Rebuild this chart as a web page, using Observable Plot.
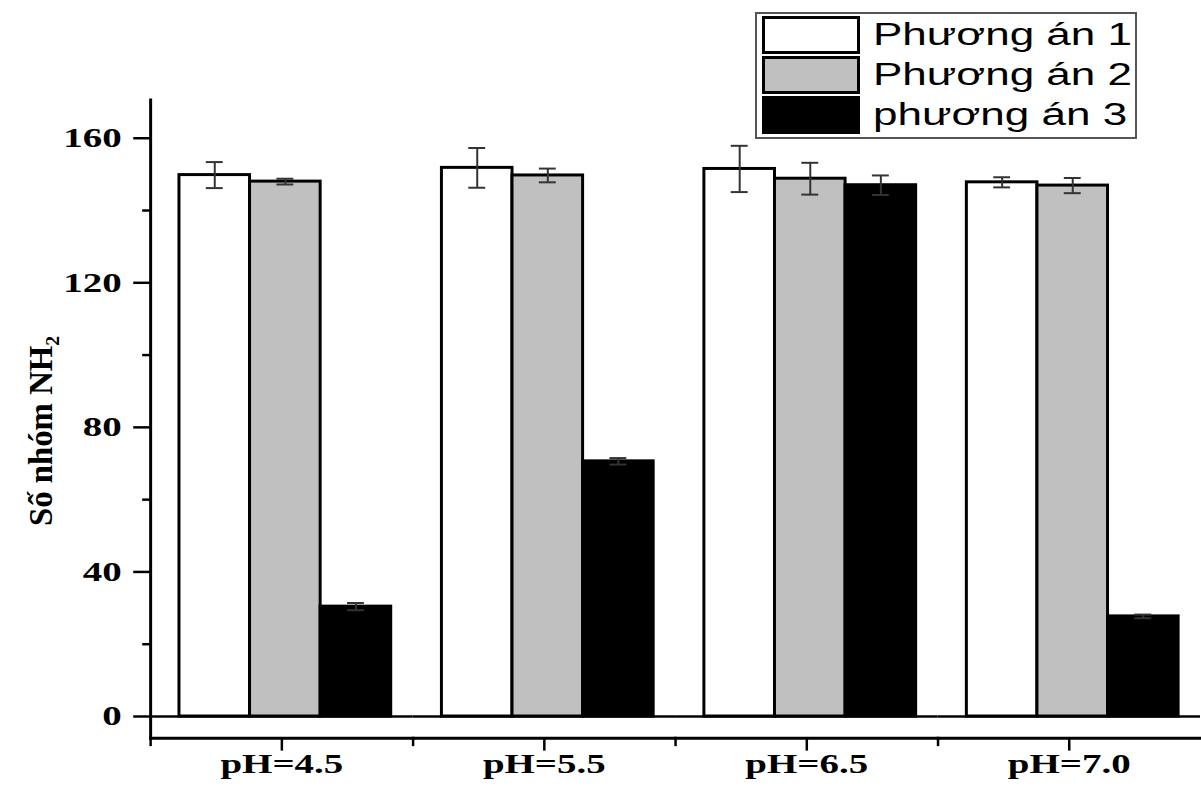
<!DOCTYPE html>
<html>
<head>
<meta charset="utf-8">
<script src="https://cdn.jsdelivr.net/npm/d3@7"></script>
<script src="https://cdn.jsdelivr.net/npm/@observablehq/plot@0.6"></script>
<style>
  html, body { margin: 0; padding: 0; background: #fff; overflow: hidden; }
  #wrap { position: relative; width: 1201px; height: 793px; overflow: hidden; }
  #legend {
    position: absolute; left: 755px; top: 12px; width: 378px; height: 123px;
    border: 2px solid #555; background: #fff; box-sizing: content-box;
  }
  .row { position: absolute; left: 3px; height: 38px; width: 372px; }
  .sw { position: absolute; left: 2px; top: 0; width: 98px; height: 38px; box-sizing: border-box; }
  .lab {
    position: absolute; left: 113px; font-family: "Liberation Sans", Arial, sans-serif;
    font-size: 31px; line-height: 31px; color: #000; white-space: nowrap;
    transform: scaleX(1.42); transform-origin: 0 0;
  }
</style>
</head>
<body>
<div id="wrap"></div>
<script>
// Groups (pH), series (treatments) and measured NH2 group counts with error margins
const groups = ["pH=4.5", "pH=5.5", "pH=6.5", "pH=7.0"];
const series = ["Phương án 1", "Phương án 2", "phương án 3"];
const values1 = [149.8, 151.8, 151.5, 147.8];
const values2 = [148.0, 149.7, 148.8, 146.9];
const values3 = [30.4, 70.6, 147.0, 27.7];
const errors1 = [3.6, 5.5, 6.4, 1.4];
const errors2 = [0.8, 1.9, 4.4, 2.1];
const errors3 = [1.0, 0.9, 2.7, 0.5];
const fills = ["#ffffff", "#c0c0c0", "#000000"];
const yTicks = [0, 40, 80, 120, 160];
const yMinorTicks = [20, 60, 100, 140];
const yLabel = "Số nhóm NH₂";

const valueSets = [values1, values2, values3];
const errorSets = [errors1, errors2, errors3];
const rows = [];
groups.forEach((g, i) => {
  series.forEach((s, j) => {
    rows.push({group: g, series: s, value: valueSets[j][i], error: errorSets[j][i]});
  });
});

// short downward tick drawn at each group boundary
const boundaryTick = {draw(context) { context.moveTo(0, 0); context.lineTo(0, 8); }};

const serif = "'Liberation Serif', 'Times New Roman', serif";

const chart = Plot.plot({
  width: 1208,
  height: 793,
  marginLeft: 150,
  marginRight: 0,
  marginTop: 100,
  marginBottom: 51,
  style: {fontFamily: serif, background: "transparent", color: "#000"},
  fx: {domain: groups, padding: 0, label: null},
  x: {domain: series, paddingInner: 0, paddingOuter: 0.34, align: 0.57, axis: null},
  y: {domain: [-6, 170.6], label: null},
  color: {domain: series, range: fills},
  marks: [
    Plot.ruleY([0], {stroke: "#000", strokeWidth: 2.5}),
    Plot.barY(rows, {fx: "group", x: "series", y: "value", fill: "series", stroke: "#000", strokeWidth: 3}),
    Plot.ruleX(rows, {fx: "group", x: "series", y1: d => d.value - d.error, y2: d => d.value + d.error, stroke: "#333", strokeWidth: 2}),
    Plot.tickY(rows, {fx: "group", x: "series", y: d => d.value + d.error, stroke: "#333", strokeWidth: 2, insetLeft: 27, insetRight: 27}),
    Plot.tickY(rows, {fx: "group", x: "series", y: d => d.value - d.error, stroke: "#333", strokeWidth: 2, insetLeft: 27, insetRight: 27}),
    Plot.frame({anchor: "bottom", stroke: "#000", strokeWidth: 3}),
    Plot.frame({anchor: "left", facetAnchor: "left", stroke: "#000", strokeWidth: 3}),
    Plot.axisY({ticks: yTicks, tickSize: 17, tickPadding: 12, strokeWidth: 2.5, fontSize: 28, fontWeight: "bold", label: null}),
    Plot.axisY({ticks: yMinorTicks, tickSize: 8, strokeWidth: 2.5, tickFormat: () => "", label: null}),
    Plot.axisFx({anchor: "bottom", tickSize: 13, tickPadding: 2, strokeWidth: 2.5, fontSize: 28, fontWeight: "bold", label: null}),
    Plot.dot([0], {frameAnchor: "bottom-left", symbol: boundaryTick, r: 8, stroke: "#000", strokeWidth: 2.5, fill: "none"}),
    Plot.text([yLabel], {frameAnchor: "left", facetAnchor: "left", textAnchor: "middle", rotate: -90, dx: -99, dy: 12, lineAnchor: "bottom", fontSize: 33, fontWeight: "bold"})
  ]
});

const wrap = document.getElementById("wrap");
wrap.appendChild(chart);

// widen the axis tick labels horizontally about their anchor points
chart.querySelectorAll('g[aria-label$="tick label"] text').forEach(t => {
  const tr = t.getAttribute("transform") || "";
  t.setAttribute("transform", tr + " scale(1.4,1)");
});

// legend box
const legend = document.createElement("div");
legend.id = "legend";
const rowTops = [2, 42, 82];
series.forEach((s, j) => {
  const row = document.createElement("div");
  row.className = "row";
  row.style.top = rowTops[j] + "px";
  const sw = document.createElement("div");
  sw.className = "sw";
  sw.style.background = fills[j];
  sw.style.border = "3px solid #000";
  const lab = document.createElement("div");
  lab.className = "lab";
  lab.style.top = "3px";
  lab.textContent = s;
  row.appendChild(sw);
  row.appendChild(lab);
  legend.appendChild(row);
});
wrap.appendChild(legend);
</script>
</body>
</html>
